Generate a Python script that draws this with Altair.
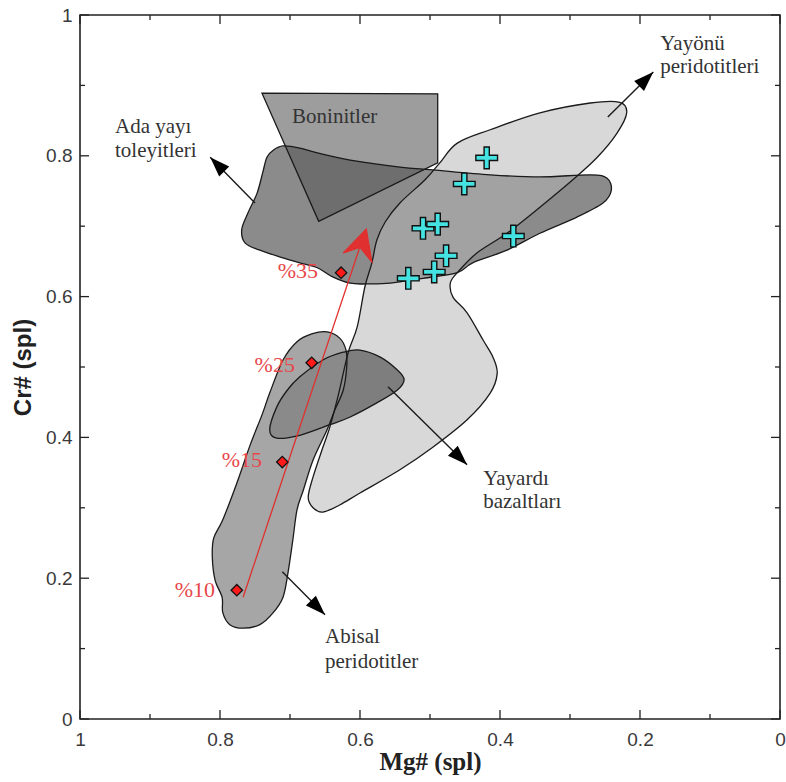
import math
import altair as alt
import pandas as pd

# ---------------- data (Mg# on x, Cr# on y) ----------------
major_ticks = [0.0, 0.2, 0.4, 0.6, 0.8, 1.0]
minor_ticks = [0.1, 0.3, 0.5, 0.7, 0.9]

ada_x = [0.710, 0.686, 0.661, 0.614, 0.543, 0.496, 0.414, 0.343, 0.271, 0.247, 0.241, 0.253,
         0.290, 0.343, 0.390, 0.439, 0.461, 0.510, 0.557, 0.590, 0.614, 0.639, 0.661, 0.686,
         0.710, 0.743, 0.764, 0.769, 0.760, 0.747, 0.739, 0.733, 0.724]
ada_y = [0.814, 0.811, 0.804, 0.794, 0.784, 0.780, 0.773, 0.770, 0.773, 0.768, 0.751, 0.733,
         0.713, 0.690, 0.666, 0.648, 0.634, 0.626, 0.619, 0.618, 0.619, 0.628, 0.641, 0.648,
         0.655, 0.666, 0.676, 0.695, 0.719, 0.747, 0.776, 0.798, 0.808]

bon_x = [0.740, 0.489, 0.489, 0.659]
bon_y = [0.889, 0.888, 0.790, 0.707]

yay_x = [0.229, 0.271, 0.343, 0.414, 0.461, 0.486, 0.507, 0.543, 0.564, 0.576, 0.583, 0.593,
         0.604, 0.617, 0.631, 0.643, 0.653, 0.667, 0.674, 0.667, 0.653, 0.629, 0.600, 0.543,
         0.496, 0.447, 0.414, 0.404, 0.410, 0.424, 0.447, 0.467, 0.471, 0.461, 0.433, 0.390,
         0.343, 0.296, 0.261, 0.233, 0.219]
yay_y = [0.876, 0.875, 0.861, 0.837, 0.818, 0.790, 0.766, 0.733, 0.706, 0.680, 0.648, 0.614,
         0.557, 0.520, 0.460, 0.415, 0.386, 0.344, 0.315, 0.300, 0.294, 0.304, 0.321, 0.354,
         0.386, 0.425, 0.463, 0.491, 0.514, 0.538, 0.577, 0.599, 0.619, 0.634, 0.662, 0.690,
         0.727, 0.766, 0.798, 0.832, 0.861]

bab_x = [0.624, 0.600, 0.571, 0.547, 0.537, 0.547, 0.576, 0.614, 0.643, 0.686, 0.719, 0.729,
         0.719, 0.704, 0.686, 0.653]
bab_y = [0.521, 0.524, 0.514, 0.496, 0.482, 0.467, 0.449, 0.429, 0.418, 0.403, 0.399, 0.411,
         0.443, 0.467, 0.486, 0.510]

aby_x = [0.647, 0.629, 0.620, 0.619, 0.624, 0.636, 0.647, 0.667, 0.681, 0.690, 0.696, 0.703,
         0.710, 0.724, 0.743, 0.767, 0.786, 0.796, 0.797, 0.807, 0.811, 0.809, 0.796, 0.776,
         0.757, 0.740, 0.729, 0.710, 0.690, 0.669]
aby_y = [0.550, 0.541, 0.524, 0.500, 0.467, 0.439, 0.411, 0.368, 0.325, 0.297, 0.254, 0.207,
         0.173, 0.151, 0.134, 0.129, 0.134, 0.151, 0.173, 0.197, 0.230, 0.257, 0.283, 0.335,
         0.389, 0.432, 0.463, 0.510, 0.536, 0.547]

sample_x = [0.419, 0.451, 0.510, 0.489, 0.477, 0.494, 0.531, 0.381]
sample_y = [0.797, 0.760, 0.697, 0.703, 0.658, 0.635, 0.626, 0.686]

melt_x = [0.776, 0.711, 0.669, 0.627]
melt_y = [0.183, 0.365, 0.506, 0.634]
pct_text = ["%10", "%15", "%25", "%35"]
pct_x = [0.807, 0.740, 0.693, 0.660]
pct_y = [0.173, 0.358, 0.493, 0.626]

trend_x = [0.767, 0.596]
trend_y = [0.173, 0.683]
trend_head_x = [0.624, 0.591, 0.583, 0.600]
trend_head_y = [0.662, 0.696, 0.649, 0.670]

arrow_x0 = [0.750, 0.246, 0.560, 0.711]
arrow_y0 = [0.733, 0.855, 0.472, 0.209]
arrow_x1 = [0.814, 0.181, 0.447, 0.650]
arrow_y1 = [0.798, 0.919, 0.361, 0.148]

label_text = ["Boninitler", "Ada yayı", "toleyitleri", "Yayönü", "peridotitleri",
              "Yayardı", "bazaltları", "Abisal", "peridotitler"]
label_x = [0.697, 0.950, 0.950, 0.171, 0.171, 0.424, 0.424, 0.650, 0.650]
label_y = [0.847, 0.832, 0.798, 0.950, 0.918, 0.332, 0.300, 0.108, 0.072]

# ---------------- layout ----------------
W, H = 700, 704
xs = alt.Scale(domain=[0, 1], reverse=True, nice=False, zero=False)
ys = alt.Scale(domain=[0, 1], nice=False, zero=False)

x_axis = alt.Axis(values=major_ticks, format="~g", ticks=False, domain=False, grid=False,
                  labelFont="Liberation Sans", labelFontSize=19, labelColor="#3a3a3a",
                  labelPadding=11, labelFlush=False,
                  titleFont="Liberation Serif", titleFontSize=25, titleFontWeight="bold",
                  titleColor="#222222", titlePadding=0)
y_axis = alt.Axis(values=major_ticks, format="~g", ticks=False, domain=False, grid=False,
                  labelFont="Liberation Sans", labelFontSize=19, labelColor="#3a3a3a",
                  labelPadding=8, labelFlush=False,
                  titleFont="Liberation Sans", titleFontSize=24, titleFontWeight="bold",
                  titleColor="#222222", titlePadding=10)


def X(field):
    return alt.X(field, type="quantitative", scale=xs, axis=x_axis, title="Mg# (spl)")


def Y(field):
    return alt.Y(field, type="quantitative", scale=ys, axis=y_axis, title="Cr# (spl)")


def pdf(xv, yv):
    return pd.DataFrame({"x": xv, "y": yv, "i": list(range(len(xv)))})


def poly_fill(xv, yv, color, opacity, interp):
    return alt.Chart(pdf(xv, yv)).mark_line(
        interpolate=interp, fill=color, fillOpacity=opacity, strokeOpacity=0
    ).encode(x=X("x"), y=Y("y"), order=alt.Order("i:Q"))


def poly_stroke(xv, yv, interp):
    return alt.Chart(pdf(xv, yv)).mark_line(
        interpolate=interp, stroke="#1a1a1a", strokeWidth=1.3
    ).encode(x=X("x"), y=Y("y"), order=alt.Order("i:Q"))


smooth = "cardinal-closed"
fills = [
    poly_fill(ada_x, ada_y, "#8b8b8b", 1.0, smooth),
    poly_fill(bon_x, bon_y, "#5c5c5c", 0.6, "linear-closed"),
    poly_fill(yay_x, yay_y, "#b6b6b6", 0.534, smooth),
    poly_fill(bab_x, bab_y, "#7e7e7e", 1.0, smooth),
    poly_fill(aby_x, aby_y, "#8d8d8d", 0.78, smooth),
]
strokes = [
    poly_stroke(ada_x, ada_y, smooth),
    poly_stroke(bon_x, bon_y, "linear-closed"),
    poly_stroke(yay_x, yay_y, smooth),
    poly_stroke(bab_x, bab_y, smooth),
    poly_stroke(aby_x, aby_y, smooth),
]

# ticks pointing inwards on all four sides
maj = pd.DataFrame({"v": major_ticks})
mnr = pd.DataFrame({"v": minor_ticks})
tick_layers = []
for df, ln in [(maj, 9), (mnr, 5)]:
    base = alt.Chart(df).mark_rule(stroke="#222222", strokeWidth=1.3)
    tick_layers += [
        base.encode(x=X("v"), y=alt.value(H), y2=alt.value(H - ln)),
        base.encode(x=X("v"), y=alt.value(0), y2=alt.value(ln)),
        base.encode(y=Y("v"), x=alt.value(0), x2=alt.value(ln)),
        base.encode(y=Y("v"), x=alt.value(W), x2=alt.value(W - ln)),
    ]

# black annotation arrows
angles = []
for a, b, c, d in zip(arrow_x0, arrow_y0, arrow_x1, arrow_y1):
    dx = -(c - a) * W
    dy = -(d - b) * H
    angles.append(math.degrees(math.atan2(dx, -dy)) % 360)
arr = pd.DataFrame({"x0": arrow_x0, "y0": arrow_y0, "x1": arrow_x1, "y1": arrow_y1, "ang": angles})
arrow_lines = alt.Chart(arr).mark_rule(stroke="#1a1a1a", strokeWidth=1.4).encode(
    x=X("x0"), y=Y("y0"), x2="x1", y2="y1")
arrow_heads = alt.Chart(arr).mark_point(
    shape="M0,0L0.7,2L-0.7,2Z", filled=True, fill="#000000", size=400, opacity=1
).encode(x=X("x1"), y=Y("y1"), angle=alt.Angle("ang:Q", scale=None))

# red melting trend
trend = alt.Chart(pdf(trend_x, trend_y)).mark_line(stroke="#e0302f", strokeWidth=1.3).encode(
    x=X("x"), y=Y("y"), order=alt.Order("i:Q"))
trend_head = alt.Chart(pdf(trend_head_x, trend_head_y)).mark_line(
    interpolate="linear-closed", fill="#e0302f", stroke="#e0302f", strokeWidth=1.2
).encode(x=X("x"), y=Y("y"), order=alt.Order("i:Q"))
melt_pts = alt.Chart(pdf(melt_x, melt_y)).mark_point(
    shape="diamond", filled=True, fill="#ff1a1a", stroke="#111111", strokeWidth=1.3,
    size=130, opacity=1).encode(x=X("x"), y=Y("y"))
pct_df = pd.DataFrame({"x": pct_x, "y": pct_y, "t": pct_text})
pct_labels = alt.Chart(pct_df).mark_text(
    align="right", baseline="alphabetic", font="Liberation Serif", fontSize=22,
    color="#e8474a").encode(x=X("x"), y=Y("y"), text="t:N")

# sample crosses
samples = alt.Chart(pdf(sample_x, sample_y)).mark_point(
    shape="M-1,-0.24H-0.24V-1H0.24V-0.24H1V0.24H0.24V1H-0.24V0.24H-1Z",
    filled=True, fill="#45e2e2", stroke="#111111", strokeWidth=1.4, size=470, opacity=1
).encode(x=X("x"), y=Y("y"))

# field labels
lab_df = pd.DataFrame({"x": label_x, "y": label_y, "t": label_text})
labels = alt.Chart(lab_df).mark_text(
    align="left", baseline="alphabetic", font="Liberation Serif", fontSize=21,
    color="#333333").encode(x=X("x"), y=Y("y"), text="t:N")

chart = alt.layer(
    *fills, *strokes, *tick_layers, arrow_lines, arrow_heads,
    trend, trend_head, melt_pts, pct_labels, samples, labels
).properties(
    width=W, height=H,
    autosize=alt.AutoSizeParams(type="none"),
    padding={"left": 80, "top": 15, "right": 6, "bottom": 63},
    background="white",
).configure_view(stroke="#222222", strokeWidth=1.6)

chart.save("out.html", embed_options={"renderer": "svg", "actions": False})
